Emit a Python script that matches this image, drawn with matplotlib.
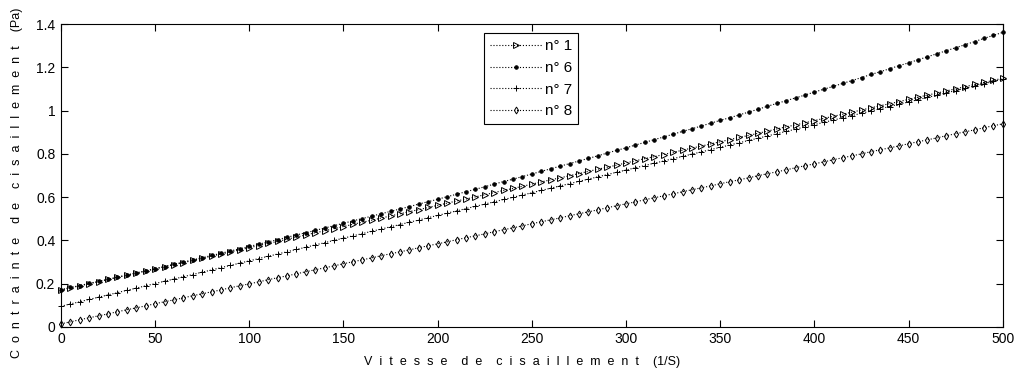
import matplotlib
matplotlib.use("Agg")
import matplotlib.pyplot as plt

# shear rate (1/S), one reading every 5 units
shear_rate = [
    0, 5, 10, 15, 20, 25, 30, 35, 40, 45, 50, 55, 60, 65, 70, 75, 80, 85, 90, 95,
    100, 105, 110, 115, 120, 125, 130, 135, 140, 145, 150, 155, 160, 165, 170, 175,
    180, 185, 190, 195, 200, 205, 210, 215, 220, 225, 230, 235, 240, 245, 250, 255,
    260, 265, 270, 275, 280, 285, 290, 295, 300, 305, 310, 315, 320, 325, 330, 335,
    340, 345, 350, 355, 360, 365, 370, 375, 380, 385, 390, 395, 400, 405, 410, 415,
    420, 425, 430, 435, 440, 445, 450, 455, 460, 465, 470, 475, 480, 485, 490, 495,
    500,
]

# shear stress (Pa)
stress_n1 = [
    0.170, 0.180, 0.190, 0.199, 0.209, 0.219, 0.229, 0.239, 0.248, 0.258,
    0.268, 0.278, 0.288, 0.297, 0.307, 0.317, 0.327, 0.337, 0.346, 0.356,
    0.366, 0.376, 0.386, 0.395, 0.405, 0.415, 0.425, 0.435, 0.444, 0.454,
    0.464, 0.474, 0.484, 0.493, 0.503, 0.513, 0.523, 0.533, 0.542, 0.552,
    0.562, 0.572, 0.582, 0.591, 0.601, 0.611, 0.621, 0.631, 0.640, 0.650,
    0.660, 0.670, 0.680, 0.689, 0.699, 0.709, 0.719, 0.729, 0.738, 0.748,
    0.758, 0.768, 0.778, 0.787, 0.797, 0.807, 0.817, 0.827, 0.836, 0.846,
    0.856, 0.866, 0.876, 0.885, 0.895, 0.905, 0.915, 0.925, 0.934, 0.944,
    0.954, 0.964, 0.974, 0.983, 0.993, 1.003, 1.013, 1.023, 1.032, 1.042,
    1.052, 1.062, 1.072, 1.081, 1.091, 1.101, 1.111, 1.121, 1.130, 1.140,
    1.150,
]
stress_n6 = [
    0.172, 0.182, 0.191, 0.201, 0.210, 0.220, 0.230, 0.240, 0.250, 0.259,
    0.269, 0.279, 0.289, 0.300, 0.310, 0.320, 0.330, 0.340, 0.351, 0.361,
    0.372, 0.382, 0.393, 0.403, 0.414, 0.425, 0.435, 0.446, 0.457, 0.468,
    0.479, 0.490, 0.501, 0.512, 0.523, 0.534, 0.545, 0.556, 0.568, 0.579,
    0.590, 0.602, 0.613, 0.625, 0.636, 0.648, 0.660, 0.672, 0.683, 0.695,
    0.707, 0.719, 0.731, 0.743, 0.755, 0.767, 0.779, 0.791, 0.804, 0.816,
    0.828, 0.841, 0.853, 0.866, 0.878, 0.891, 0.904, 0.916, 0.929, 0.942,
    0.955, 0.967, 0.980, 0.993, 1.006, 1.020, 1.033, 1.046, 1.059, 1.072,
    1.086, 1.099, 1.112, 1.126, 1.139, 1.153, 1.167, 1.180, 1.194, 1.208,
    1.221, 1.235, 1.249, 1.263, 1.277, 1.291, 1.305, 1.319, 1.334, 1.348,
    1.362,
]
stress_n7 = [
    0.095, 0.106, 0.116, 0.127, 0.137, 0.148, 0.158, 0.169, 0.179, 0.190,
    0.200, 0.211, 0.221, 0.232, 0.242, 0.253, 0.263, 0.274, 0.284, 0.295,
    0.305, 0.316, 0.326, 0.337, 0.347, 0.358, 0.368, 0.379, 0.389, 0.400,
    0.410, 0.421, 0.431, 0.442, 0.452, 0.463, 0.473, 0.484, 0.494, 0.505,
    0.515, 0.526, 0.536, 0.547, 0.557, 0.568, 0.578, 0.589, 0.599, 0.610,
    0.620, 0.631, 0.641, 0.652, 0.662, 0.673, 0.683, 0.694, 0.704, 0.715,
    0.725, 0.736, 0.746, 0.757, 0.767, 0.778, 0.788, 0.799, 0.809, 0.820,
    0.830, 0.841, 0.851, 0.862, 0.872, 0.883, 0.893, 0.904, 0.914, 0.925,
    0.935, 0.946, 0.956, 0.967, 0.977, 0.988, 0.998, 1.009, 1.019, 1.030,
    1.040, 1.051, 1.061, 1.072, 1.082, 1.093, 1.103, 1.114, 1.124, 1.135,
    1.145,
]
stress_n8 = [
    0.014, 0.023, 0.033, 0.042, 0.051, 0.060, 0.070, 0.079, 0.088, 0.097,
    0.107, 0.116, 0.125, 0.134, 0.144, 0.153, 0.162, 0.171, 0.181, 0.190,
    0.199, 0.208, 0.218, 0.227, 0.236, 0.245, 0.255, 0.264, 0.273, 0.282,
    0.292, 0.301, 0.310, 0.319, 0.329, 0.338, 0.347, 0.356, 0.366, 0.375,
    0.384, 0.393, 0.403, 0.412, 0.421, 0.430, 0.440, 0.449, 0.458, 0.467,
    0.477, 0.486, 0.495, 0.504, 0.514, 0.523, 0.532, 0.541, 0.551, 0.560,
    0.569, 0.578, 0.588, 0.597, 0.606, 0.615, 0.625, 0.634, 0.643, 0.652,
    0.662, 0.671, 0.680, 0.689, 0.699, 0.708, 0.717, 0.726, 0.736, 0.745,
    0.754, 0.763, 0.773, 0.782, 0.791, 0.800, 0.810, 0.819, 0.828, 0.837,
    0.847, 0.856, 0.865, 0.874, 0.884, 0.893, 0.902, 0.911, 0.921, 0.930,
    0.939,
]

labels = ["n° 1", "n° 6", "n° 7", "n° 8"]
markers = [">", ".", "+", "d"]
sizes = [4, 5, 5, 3.5]


def spaced(words, tail):
    # the original labels are drawn with wide letter spacing
    return "    ".join("  ".join(w) for w in words) + "    " + tail


plt.rcParams["font.family"] = ["Liberation Sans", "DejaVu Sans"]

fig = plt.figure(figsize=(10.15, 3.71), dpi=100)
ax = fig.add_axes([0.060, 0.119, 0.928, 0.816])

for ys, lab, mk, ms in zip([stress_n1, stress_n6, stress_n7, stress_n8], labels, markers, sizes):
    ax.plot(shear_rate, ys, linestyle=":", color="black", linewidth=0.8,
            marker=mk, markersize=ms, markerfacecolor="none" if mk in (">", "d") else "black",
            markeredgecolor="black", markeredgewidth=0.7, label=lab, clip_on=False)

ax.set_xlim(0, 500)
ax.set_ylim(0, 1.4)
ax.set_xticks(range(0, 501, 50))
ax.set_yticks([0, 0.2, 0.4, 0.6, 0.8, 1, 1.2, 1.4])
ax.set_yticklabels(["0", "0.2", "0.4", "0.6", "0.8", "1", "1.2", "1.4"])
ax.tick_params(direction="in", length=5, width=0.8, top=True, right=True,
               labelsize=10, pad=4, colors="black")
for s in ax.spines.values():
    s.set_linewidth(0.8)

ax.set_xlabel(spaced(["Vitesse", "de", "cisaillement"], "(1/S)"), fontsize=9)
ax.set_ylabel(spaced(["Contrainte", "de", "cisaillement"], "(Pa)"), fontsize=9)
ax.xaxis.set_label_coords(0.49, -0.095)
ax.yaxis.set_label_coords(-0.040, 0.475)

leg = ax.legend(loc="upper center", bbox_to_anchor=(0.499, 0.97), fontsize=11,
                handlelength=3.4, handletextpad=0.2, labelspacing=0.5,
                borderpad=0.4, borderaxespad=0, fancybox=False, framealpha=1,
                edgecolor="black")
leg.get_frame().set_linewidth(0.8)

fig.savefig("out.png", dpi=100)
